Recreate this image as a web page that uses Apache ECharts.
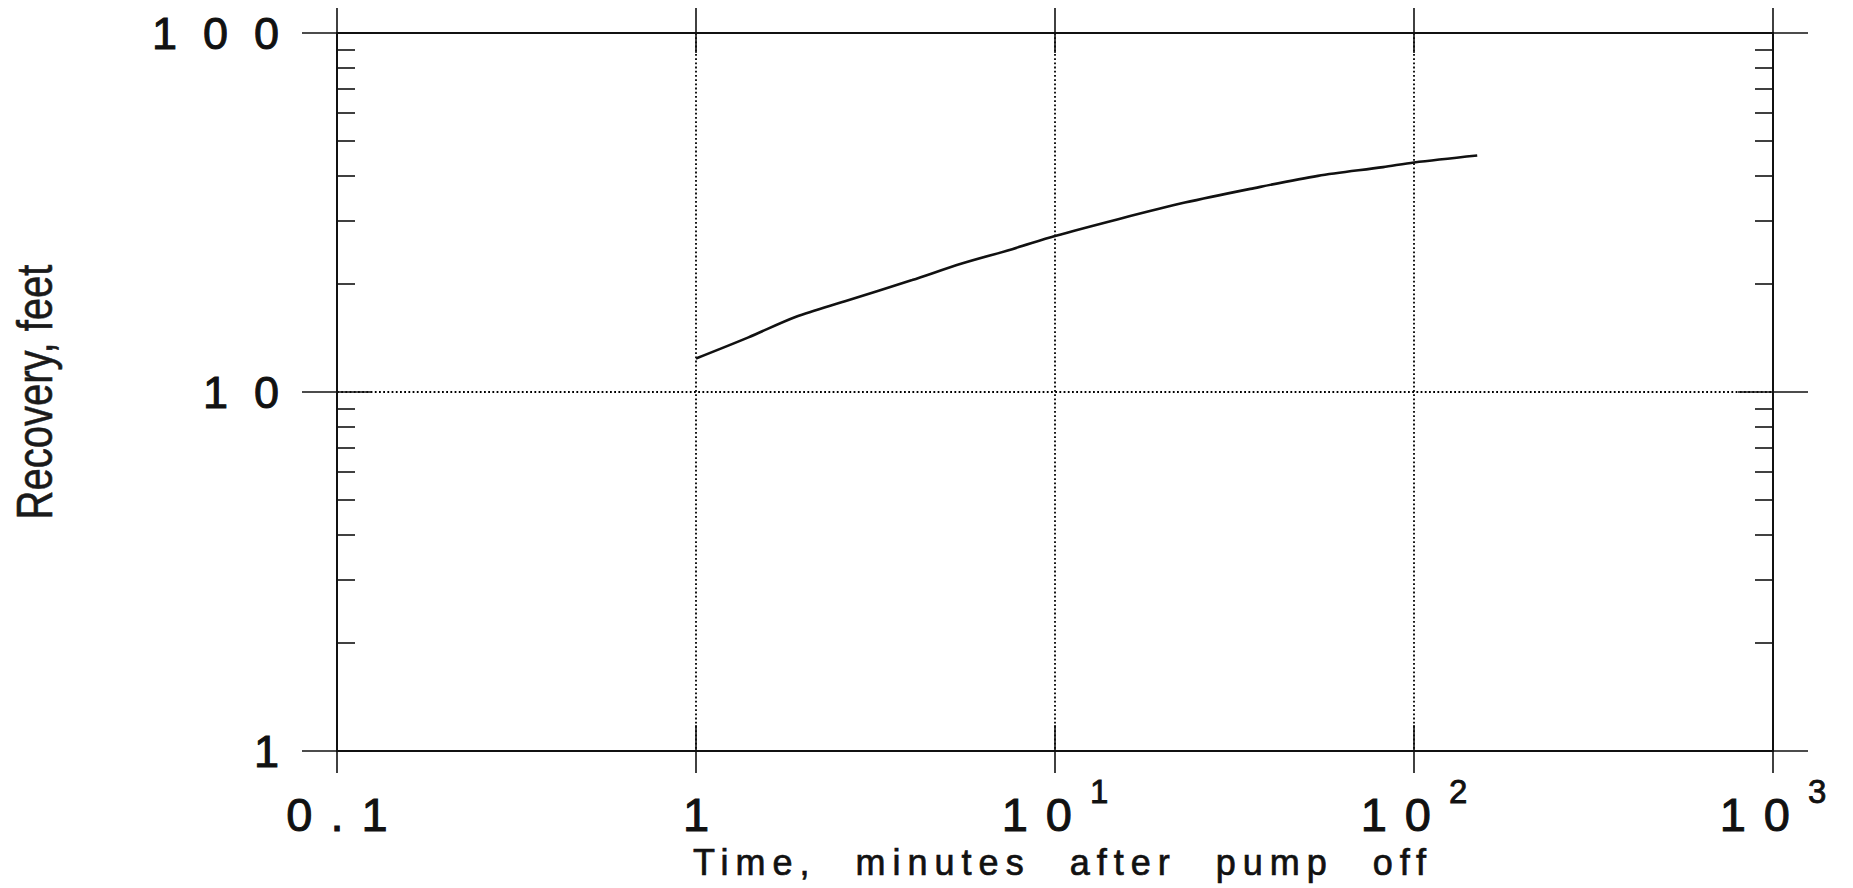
<!DOCTYPE html>
<html>
<head>
<meta charset="utf-8">
<script src="https://cdn.jsdelivr.net/npm/echarts@6/dist/echarts.min.js"></script>
<style>
html,body{margin:0;padding:0;background:#ffffff;}
#chart{width:1853px;height:888px;}
</style>
</head>
<body>
<div id="chart"></div>
<script>
// ---- data ----
const timeMinutes  = [1, 1.4, 1.9, 2.6, 4, 5.5, 7.6, 10, 15, 23, 35, 54, 82, 100, 150];
const recoveryFeet = [12.4, 14.2, 16.2, 17.9, 20.5, 22.8, 25.0, 27.2, 30.3, 33.7, 36.8, 40.0, 42.3, 43.6, 45.6];
const xMajorTicks  = [0.1, 1, 10, 100, 1000];
const xTickBase    = ['0.1', '1', '10', '10', '10'];
const xTickExp     = ['', '', '1', '2', '3'];
const yMajorTicks  = [1, 10, 100];
const yTickLabels  = ['1', '10', '100'];
const yMinorTicks  = [2, 3, 4, 5, 6, 7, 8, 9, 20, 30, 40, 50, 60, 70, 80, 90];
const xAxisTitle   = 'Time, minutes after pump off';
const yAxisTitle   = 'Recovery, feet';

const INK = '#111111';
const FONT = 'Liberation Sans';

function xAxisDef(position, inside, len, withLabels) {
  const ax = {
    type: 'log', logBase: 10, min: 0.1, max: 1000, gridIndex: 0, position: position,
    axisLine: { show: !inside, lineStyle: { color: INK, width: 2 } },
    axisTick: { show: true, inside: inside, length: len, customValues: xMajorTicks,
                lineStyle: { color: INK, width: 1.6 } },
    axisLabel: { show: false },
    minorTick: { show: false },
    splitLine: { show: false },
    axisPointer: { show: false }
  };
  if (withLabels) {
    ax.axisLabel = {
      show: true, customValues: xMajorTicks, margin: 24, color: INK,
      fontFamily: FONT, fontSize: 47,
      showMinLabel: true, showMaxLabel: true, hideOverlap: false,
      formatter: function (v) {
        const i = Math.round(Math.log10(v)) + 1;
        const e = xTickExp[i];
        return e ? '{b|' + xTickBase[i] + '}{s|' + e + '}' : '{b|' + xTickBase[i] + '}';
      },
      rich: {
        b: { fontFamily: FONT, fontSize: 47, lineHeight: 79, color: INK, padding: [0, 0, 0, 18],
             textBorderColor: INK, textBorderWidth: 1 },
        s: { fontFamily: FONT, fontSize: 33, lineHeight: 33, color: INK, verticalAlign: 'top', padding: [0, 0, 0, 18],
             textBorderColor: INK, textBorderWidth: 0.8 }
      }
    };
    ax.splitLine = { show: true, lineStyle: { color: '#000000', width: 1.8, type: [1.8, 2.4] } };
    ax.name = xAxisTitle;
    ax.nameLocation = 'middle';
    ax.nameGap = 93;
    ax.nameTextStyle = { fontFamily: FONT, fontSize: 36, color: INK, padding: [0, 0, 0, 16],
                         textBorderColor: INK, textBorderWidth: 0.7 };
  }
  return ax;
}

function yAxisDef(position, inside, len, ticks, withLabels, showLine) {
  const ax = {
    type: 'log', logBase: 10, min: 1, max: 100, gridIndex: 0, position: position,
    axisLine: { show: showLine, lineStyle: { color: INK, width: 2 } },
    axisTick: { show: true, inside: inside, length: len, customValues: ticks,
                lineStyle: { color: INK, width: 1.6 } },
    axisLabel: { show: false },
    minorTick: { show: false },
    splitLine: { show: false },
    axisPointer: { show: false }
  };
  if (withLabels) {
    ax.axisLabel = {
      show: true, customValues: yMajorTicks, margin: 32, color: INK,
      fontFamily: FONT, fontSize: 45,
      textBorderColor: INK, textBorderWidth: 1,
      showMinLabel: true, showMaxLabel: true, hideOverlap: false,
      formatter: function (v) {
        return yTickLabels[Math.round(Math.log10(v))];
      }
    };
    ax.splitLine = { show: true, lineStyle: { color: '#000000', width: 1.8, type: [1.8, 2.4] } };
    ax.name = yAxisTitle;
    ax.nameLocation = 'middle';
    ax.nameRotate = 90;
    ax.nameGap = 277;
    ax.nameTextStyle = { fontFamily: FONT, fontSize: 50, color: '#1a1a1a',
                         textBorderColor: '#1a1a1a', textBorderWidth: 0.6 };
  }
  return ax;
}

const chart = echarts.init(document.getElementById('chart'), null, { renderer: 'svg' });

const option = {
  backgroundColor: '#ffffff',
  animation: false,
  grid: { left: 337, right: 80, top: 33, bottom: 137, containLabel: false, outerBoundsMode: 'none' },
  xAxis: [
    xAxisDef('bottom', false, 22, true),
    xAxisDef('bottom', true, 26, false),
    xAxisDef('top', false, 25, false),
    xAxisDef('top', true, 20, false)
  ],
  yAxis: [
    yAxisDef('left', false, 35, yMajorTicks, true, true),
    yAxisDef('left', true, 35, yMajorTicks, false, false),
    yAxisDef('left', true, 18, yMinorTicks, false, false),
    yAxisDef('right', false, 35, yMajorTicks, false, true),
    yAxisDef('right', true, 35, yMajorTicks, false, false),
    yAxisDef('right', true, 18, yMinorTicks, false, false)
  ],
  series: [{
    type: 'line',
    name: 'Recovery',
    xAxisIndex: 0, yAxisIndex: 0,
    data: timeMinutes.map(function (t, i) { return [t, recoveryFeet[i]]; }),
    showSymbol: false,
    smooth: 0.3,
    lineStyle: { color: INK, width: 2.6 },
    z: 5
  }]
};

chart.setOption(option);

function applySpacing() {
  const texts = document.querySelectorAll('#chart svg text');
  texts.forEach(function (t) {
    const fs = parseFloat(getComputedStyle(t).fontSize);
    const content = t.textContent;
    if (content === xAxisTitle) {
      t.setAttribute('letter-spacing', '7');
      t.setAttribute('word-spacing', '22');
    } else if (content === yAxisTitle) {
      if (!t.getAttribute('data-narrow')) {
        const x = parseFloat(t.getAttribute('x') || 0);
        const y = parseFloat(t.getAttribute('y') || 0);
        const tr = t.getAttribute('transform') || '';
        t.setAttribute('transform', tr + ' translate(' + x + ' ' + y + ') scale(0.8 1) translate(' + (-x) + ' ' + (-y) + ')');
        t.setAttribute('data-narrow', '1');
      }
    } else if (Math.abs(fs - 47) < 0.5) {
      t.setAttribute('letter-spacing', '18');
    } else if (Math.abs(fs - 45) < 0.5) {
      t.setAttribute('letter-spacing', '26');
    }
  });
}
applySpacing();
chart.on('finished', applySpacing);
</script>
</body>
</html>
